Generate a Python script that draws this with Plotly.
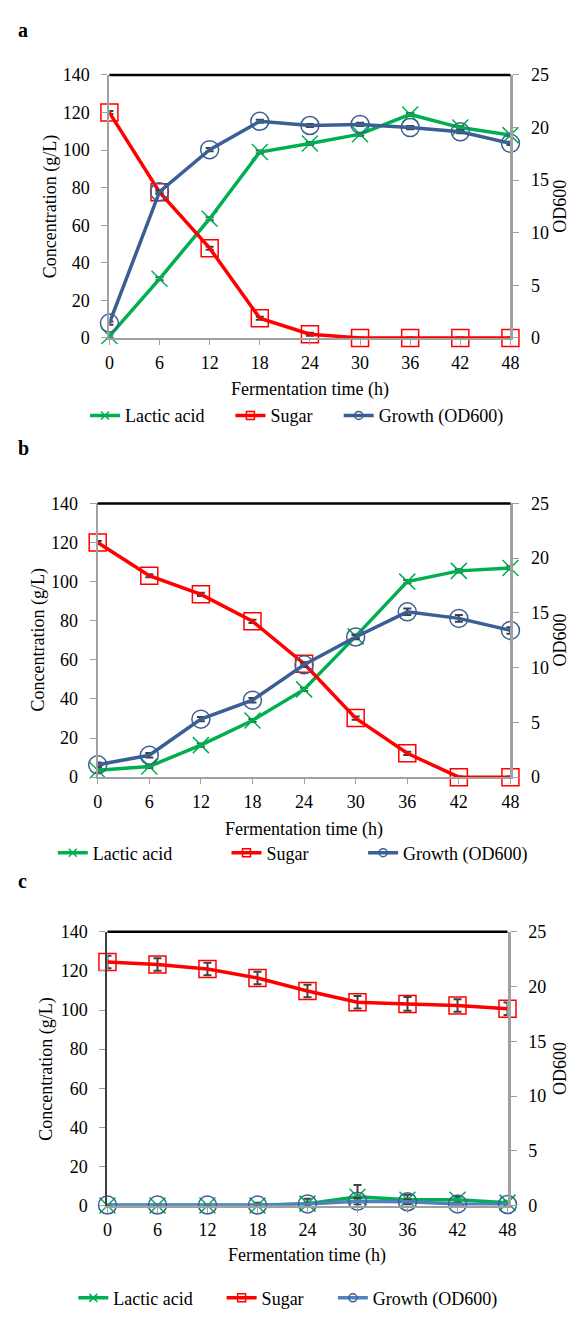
import plotly.graph_objects as go

W, H = 578, 1318

time = [0, 6, 12, 18, 24, 30, 36, 42, 48]
x_ticks = [0, 6, 12, 18, 24, 30, 36, 42, 48]
y_left_ticks = [0, 20, 40, 60, 80, 100, 120, 140]
y_right_ticks = [0, 5, 10, 15, 20, 25]

# Panel a
a_lactic = [1, 31.5, 63.5, 99, 103.5, 108.5, 119, 112, 108]
a_lactic_err = [0.8, 0.8, 0.8, 0.8, 0.8, 0.8, 0.8, 0.8, 0.8]
a_sugar = [120, 77.6, 47.8, 10.5, 2, 0, 0, 0, 0]
a_sugar_err = [0.8, 0.8, 0.8, 0.8, 0.8, 0.3, 0.3, 0.3, 0.3]
a_growth = [1.41, 13.9, 17.9, 20.6, 20.2, 20.3, 20.0, 19.6, 18.5]
a_growth_err = [0.15, 0.15, 0.15, 0.15, 0.15, 0.15, 0.15, 0.15, 0.15]

# Panel b
b_lactic = [3.5, 5.5, 16.4, 29, 44.9, 72, 100, 105.5, 107]
b_lactic_err = [0.8, 0.8, 0.8, 0.8, 0.8, 0.8, 0.8, 0.8, 0.8]
b_sugar = [120, 103, 93.5, 79.7, 58, 30.2, 12.2, 0, 0]
b_sugar_err = [0.8, 0.8, 0.8, 0.8, 0.8, 0.8, 0.8, 0.3, 0.3]
b_growth = [1.13, 2.0, 5.3, 7.03, 10.26, 12.8, 15.1, 14.5, 13.4]
b_growth_err = [0.2, 0.2, 0.2, 0.2, 0.2, 0.2, 0.3, 0.3, 0.3]

# Panel c
c_lactic = [0, 0, 0, 0, 1, 4.5, 3, 3, 1.5]
c_lactic_err = [0.5, 0.5, 0.5, 1.5, 2.5, 6, 2.5, 1.5, 1]
c_sugar = [124.6, 123.3, 121, 116.4, 109.7, 104, 103.1, 102.3, 100.6]
c_sugar_err = [3.2, 3.2, 3.2, 3.2, 3.2, 3.2, 3.5, 3.2, 3.2]
c_growth = [0.05, 0.05, 0.05, 0.05, 0.15, 0.4, 0.35, 0.15, 0.1]
c_growth_err = [0.05, 0.05, 0.05, 0.05, 0.1, 0.3, 0.2, 0.1, 0.05]

GREEN = "#00b050"
RED = "#ff0000"
BLUE = "#3a5f94"
BLUE_C = "#4f81bd"
ERR = "#404040"
AXIS_GRAY = "#a0a0a0"
FONT = "Liberation Serif"

def px_x(x):
    return x / W

def px_y(y):
    return 1 - y / H

panels = [
    dict(l=107, r=518, t=66, b=333, ytitle_x=47, od_x=569, xt_y=385, leg_y=412,
         leg_x=[82, 231, 342], lab_y=20, left_col=AXIS_GRAY,
         data=(a_lactic, a_lactic_err, a_sugar, a_sugar_err, a_growth, a_growth_err),
         gline=BLUE, gmark=BLUE, label="a"),
    dict(l=95, r=518, t=501, b=779, ytitle_x=34, od_x=569, xt_y=832, leg_y=856,
         leg_x=[49, 227, 367], lab_y=445, left_col=AXIS_GRAY,
         data=(b_lactic, b_lactic_err, b_sugar, b_sugar_err, b_growth, b_growth_err),
         gline=BLUE, gmark=BLUE, label="b"),
    dict(l=105, r=515, t=936, b=1214, ytitle_x=43, od_x=568, xt_y=1265, leg_y=1308,
         leg_x=[70, 222, 336], lab_y=884, left_col="#404040",
         data=(c_lactic, c_lactic_err, c_sugar, c_sugar_err, c_growth, c_growth_err),
         gline=BLUE_C, gmark=BLUE, label="c"),
]

fig = go.Figure()
layout = dict(
    width=W, height=H, margin=dict(l=0, r=0, t=0, b=0),
    paper_bgcolor="white", plot_bgcolor="white",
    font=dict(family=FONT, size=18, color="black"),
    shapes=[], annotations=[],
)

leg_idx = 1
for i, p in enumerate(panels):
    xa = "x" if i == 0 else f"x{i+1}"
    ya = f"y{2*i+1}" if i > 0 else "y"
    yb = f"y{2*i+2}"
    xkey = "xaxis" if i == 0 else f"xaxis{i+1}"
    yka = "yaxis" if i == 0 else f"yaxis{2*i+1}"
    ykb = f"yaxis{2*i+2}"
    xdom = [px_x(p["l"]), px_x(p["r"])]
    ydom = [px_y(p["b"]), px_y(p["t"])]
    layout[xkey] = dict(
        domain=xdom, range=[0, 48], anchor=ya, tickvals=x_ticks,
        showline=True, linecolor=AXIS_GRAY, linewidth=2, ticks="outside",
        ticklen=5, tickcolor=AXIS_GRAY, tickwidth=1, showgrid=False, zeroline=False,
        tickfont=dict(size=18, family=FONT), ticklabelstandoff=2,
    )
    layout[yka] = dict(
        domain=ydom, range=[0, 140], anchor=xa, tickvals=y_left_ticks,
        showline=True, linecolor=p["left_col"], linewidth=2, ticks="outside",
        ticklen=6, tickcolor=AXIS_GRAY, tickwidth=1, showgrid=False, zeroline=False,
        tickfont=dict(size=18, family=FONT), ticklabelstandoff=8,
    )
    layout[ykb] = dict(
        domain=ydom, range=[0, 25], anchor=xa, overlaying=ya, side="right",
        tickvals=y_right_ticks,
        showline=True, linecolor=AXIS_GRAY, linewidth=3, ticks="outside",
        ticklen=6, tickcolor=AXIS_GRAY, tickwidth=1, showgrid=False, zeroline=False,
        tickfont=dict(size=18, family=FONT), ticklabelstandoff=8,
    )
    layout["shapes"].append(dict(type="line", xref="paper", yref="paper",
                                 x0=xdom[0], x1=xdom[1], y0=ydom[1], y1=ydom[1],
                                 line=dict(color="black", width=2.5)))
    cy = (p["t"] + p["b"]) / 2
    layout["annotations"] += [
        dict(text="Concentration (g/L)", x=px_x(p["ytitle_x"]), y=px_y(cy),
             xref="paper", yref="paper", showarrow=False, textangle=-90,
             xanchor="center", yanchor="middle", font=dict(size=18, family=FONT)),
        dict(text="OD600", x=px_x(p["od_x"]), y=px_y(cy),
             xref="paper", yref="paper", showarrow=False, textangle=-90,
             xanchor="center", yanchor="middle", font=dict(size=18, family=FONT)),
        dict(text="Fermentation time (h)", x=px_x((p["l"] + p["r"]) / 2), y=px_y(p["xt_y"]),
             xref="paper", yref="paper", showarrow=False,
             xanchor="center", yanchor="middle", font=dict(size=18, family=FONT)),
        dict(text="<b>" + p["label"] + "</b>", x=px_x(11), y=px_y(p["lab_y"]),
             xref="paper", yref="paper", showarrow=False,
             xanchor="left", yanchor="middle", font=dict(size=20, family=FONT)),
    ]

    lac, lac_e, sug, sug_e, gro, gro_e = p["data"]
    eb = lambda arr: dict(type="data", array=arr, visible=True, color=ERR, thickness=2, width=4)
    fig.add_trace(go.Scatter(x=time, y=lac, xaxis=xa, yaxis=ya, mode="lines+markers",
                             line=dict(color=GREEN, width=3.5),
                             marker=dict(symbol="x-thin", size=16, line=dict(color=GREEN, width=1.5)),
                             error_y=eb(lac_e), cliponaxis=False, showlegend=False))
    fig.add_trace(go.Scatter(x=time, y=sug, xaxis=xa, yaxis=ya, mode="lines+markers",
                             line=dict(color=RED, width=3.5),
                             marker=dict(symbol="square-open", size=17, color=RED, line=dict(width=1.5)),
                             error_y=eb(sug_e), cliponaxis=False, showlegend=False))
    fig.add_trace(go.Scatter(x=time, y=gro, xaxis=xa, yaxis=yb, mode="lines+markers",
                             line=dict(color=p["gline"], width=3.5),
                             marker=dict(symbol="circle-open", size=18, color=p["gmark"], line=dict(width=1.5)),
                             error_y=eb(gro_e), cliponaxis=False, showlegend=False))

    names = ["Lactic acid", "Sugar", "Growth (OD600)"]
    cols = [GREEN, RED, p["gline"]]
    syms = ["x-thin", "square-open", "circle-open"]
    for k in range(3):
        lid = "legend" if leg_idx == 1 else f"legend{leg_idx}"
        mc = cols[k] if k < 2 else p["gmark"]
        mk = dict(symbol=syms[k], size=8, color=mc, line=dict(width=1.5, color=mc))
        fig.add_trace(go.Scatter(x=[None], y=[None], xaxis=xa, yaxis=ya, mode="lines+markers",
                                 name=names[k], line=dict(color=cols[k], width=3.5),
                                 marker=mk, showlegend=True, legend=lid))
        layout[lid] = dict(x=px_x(p["leg_x"][k]), y=px_y(p["leg_y"]), xanchor="left",
                           yanchor="middle", bgcolor="rgba(0,0,0,0)", borderwidth=0,
                           font=dict(size=18, family=FONT), itemwidth=30)
        leg_idx += 1

fig.update_layout(**layout)
fig.write_html(
    "out.html",
    config={"displayModeBar": False},
    post_script="document.documentElement.style.margin='0';document.body.style.margin='0';"
                "document.documentElement.style.overflow='hidden';document.body.style.overflow='hidden';",
)
